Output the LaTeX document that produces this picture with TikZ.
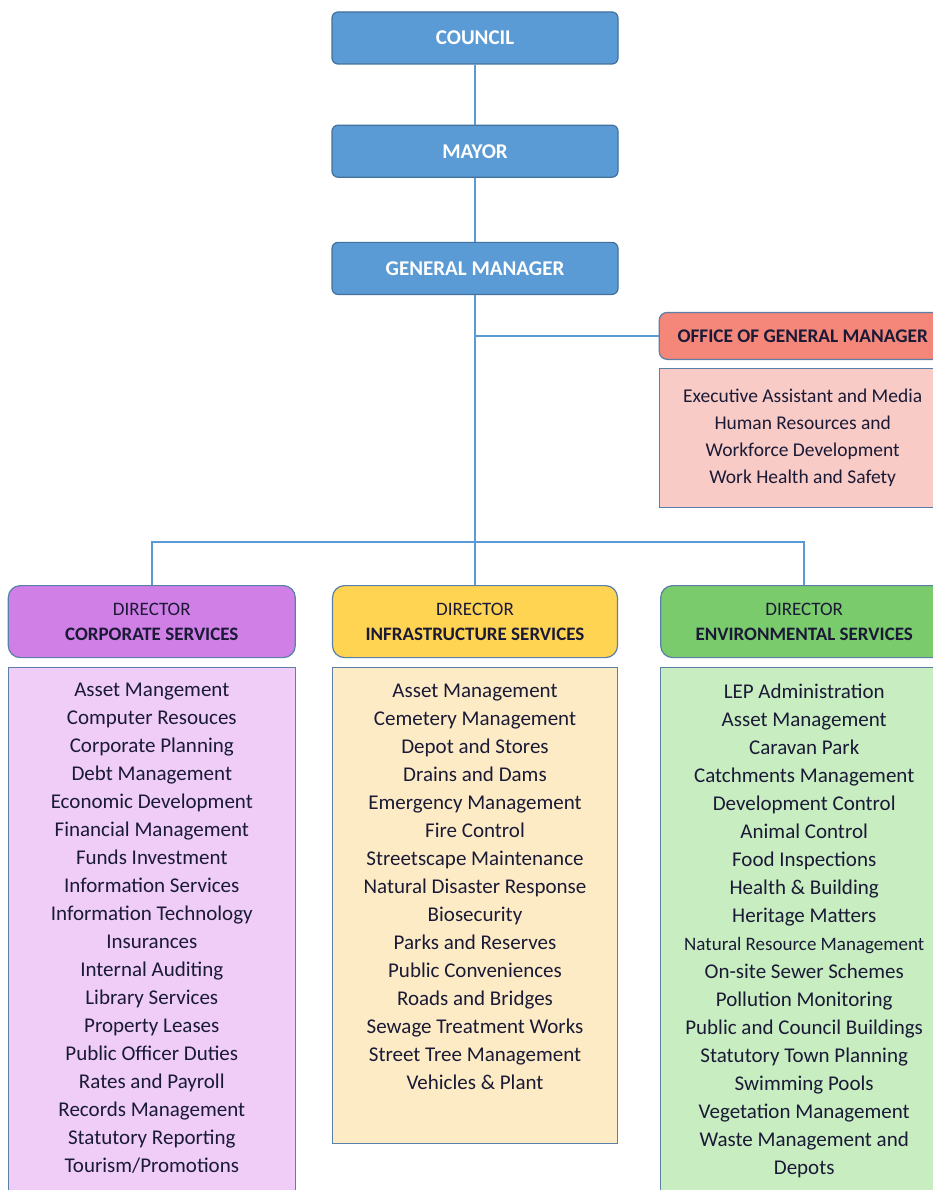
\documentclass[tikz,border=0pt]{standalone}
\usepackage{fontspec}
\setmainfont{Carlito}
\usetikzlibrary{positioning}
\definecolor{mainblue}{HTML}{5B9BD5}
\definecolor{topline}{HTML}{41719C}
\definecolor{boxline}{HTML}{5A7FA8}
\definecolor{textdark}{HTML}{1A1A36}
\definecolor{officered}{HTML}{F4877A}
\definecolor{officepink}{HTML}{F9CBC6}
\definecolor{corphead}{HTML}{CF7FE5}
\definecolor{corpfill}{HTML}{EFCDF6}
\definecolor{infrahead}{HTML}{FFD453}
\definecolor{infrafill}{HTML}{FDEBC6}
\definecolor{envhead}{HTML}{7ACB6C}
\definecolor{envfill}{HTML}{C8EDC1}
\tikzset{
    %Define style for the blue boxes
    topbox/.style={
             rectangle, rounded corners=6pt,
             draw=topline, line width=1.2pt, fill=mainblue,
             minimum width=286pt, minimum height=52pt,
             text=white,
             font=\fontsize{21}{25}\selectfont\bfseries},
    %Define style for the director boxes
    headbox/.style={
             rectangle, rounded corners=12pt,
             draw=boxline, line width=1.2pt,
             minimum width=287pt, minimum height=72pt,
             align=center, text=textdark,
             font=\fontsize{19}{25}\selectfont},
    officehead/.style={
             rectangle, rounded corners=8pt,
             draw=boxline, line width=1.2pt, fill=officered,
             minimum width=287pt, minimum height=47pt,
             text=textdark,
             font=\fontsize{19.3}{23}\selectfont\bfseries},
    % Define style for the lists
    listbox/.style={
             rectangle,
             draw=boxline, line width=1pt,
             minimum width=287pt},
    listtext/.style={
             align=center, inner sep=0pt,
             text=textdark,
             execute at begin node=\strut,
             font=\fontsize{21}{28}\selectfont},
    % Define line style
    orgline/.style={
            draw=mainblue,
            line width=2pt}
}
\begin{document}
\begin{tikzpicture}[node distance=10pt]
 \useasboundingbox (0,0) rectangle (933pt,-1190pt);
 \clip (0,0) rectangle (933pt,-1190pt);
 \node[topbox] (council) at (475pt,-38pt) {COUNCIL};
 \node[topbox, below=60pt of council] (mayor) {MAYOR};
 \node[topbox, below=64pt of mayor] (gm) {GENERAL MANAGER};
 \node[officehead, right=40pt of gm, yshift=-67.5pt] (office) {OFFICE OF GENERAL MANAGER};
 \node[listbox, fill=officepink, below=8pt of office, minimum height=139pt,
       align=center, text=textdark, font=\fontsize{19.5}{27}\selectfont] (officelist)
      {Executive Assistant and Media\\Human Resources and\\Workforce Development\\Work Health and Safety};
 %\node[headbox] (directors) {directors};
 \node[headbox, fill=infrahead, minimum width=285pt, below=290pt of gm] (infra)
      {DIRECTOR\\\textbf{INFRASTRUCTURE SERVICES}};
 \node[headbox, fill=corphead, left=36pt of infra] (corp)
      {DIRECTOR\\\textbf{CORPORATE SERVICES}};
 \node[headbox, fill=envhead, right=42pt of infra] (env)
      {DIRECTOR\\\textbf{ENVIRONMENTAL SERVICES}};
 \node[listbox, fill=corpfill, below=9pt of corp, minimum height=560pt] (corpbox) {};
 \node[listbox, fill=infrafill, below=9pt of infra, minimum width=285pt, minimum height=476pt] (infrabox) {};
 \node[listbox, fill=envfill, below=9pt of env, minimum height=560pt] (envbox) {};
 \node[listtext, below=16pt of corpbox.north] (corplist)
      {Asset Mangement\\Computer Resouces\\Corporate Planning\\Debt Management\\
       Economic Development\\Financial Management\\Funds Investment\\Information Services\\
       Information Technology\\Insurances\\Internal Auditing\\Library Services\\
       Property Leases\\Public Officer Duties\\Rates and Payroll\\Records Management\\
       Statutory Reporting\\Tourism/Promotions};
 \node[listtext, below=17pt of infrabox.north] (infralist)
      {Asset Management\\Cemetery Management\\Depot and Stores\\Drains and Dams\\
       Emergency Management\\Fire Control\\Streetscape Maintenance\\Natural Disaster Response\\
       Biosecurity\\Parks and Reserves\\Public Conveniences\\Roads and Bridges\\
       Sewage Treatment Works\\Street Tree Management\\Vehicles \& Plant};
 \node[listtext, below=17pt of envbox.north] (envlist)
      {LEP Administration\\Asset Management\\Caravan Park\\Catchments Management\\
       Development Control\\Animal Control\\Food Inspections\\Health \& Building\\
       Heritage Matters\\{\fontsize{19}{28}\selectfont Natural Resource Management}\\
       On-site Sewer Schemes\\Pollution Monitoring\\Public and Council Buildings\\
       Statutory Town Planning\\Swimming Pools\\Vegetation Management\\
       Waste Management and\\Depots};
 \coordinate[below=247pt of gm.south] (bar);
 \path[orgline] (council) -- (mayor)
       (mayor) -- (gm)
       (gm) -- (infra)
       (gm.south |- office.west) -- (office.west)
       (corp.north) |- (bar) -| (env.north);
\end{tikzpicture}
\end{document}
